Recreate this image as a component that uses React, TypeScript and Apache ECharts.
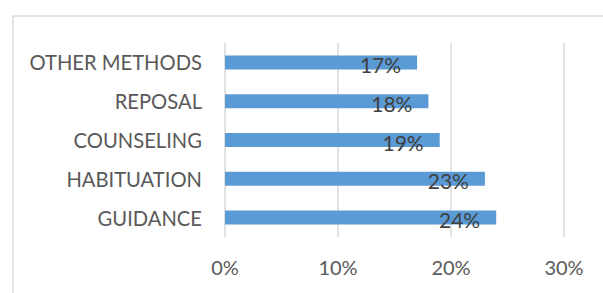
import React, { useEffect, useRef } from "react";
import * as echarts from "echarts";

const categories = ["GUIDANCE", "HABITUATION", "COUNSELING", "REPOSAL", "OTHER METHODS"];
const values = [0.24, 0.23, 0.19, 0.18, 0.17];
const axisTicks = [0, 0.1, 0.2, 0.3];

const FONT = "Lato";

export default function App() {
  const ref = useRef<HTMLDivElement>(null);
  useEffect(() => {
    document.body.style.margin = "0";
    const chart = echarts.init(ref.current!, undefined, { renderer: "svg" });
    chart.setOption({
      animation: false,
      backgroundColor: "#ffffff",
      graphic: [
        {
          type: "rect",
          left: 10.5,
          top: 13.5,
          shape: { width: 700, height: 400 },
          style: { fill: "none", stroke: "#d9d9d9", lineWidth: 1.5 },
          silent: true,
        },
      ],
      grid: { left: 225, right: 39, top: 43, bottom: 56 },
      xAxis: {
        type: "value",
        min: axisTicks[0],
        max: axisTicks[axisTicks.length - 1],
        interval: 0.1,
        axisLine: { show: false },
        axisTick: { show: false },
        splitLine: { lineStyle: { color: "#d9d9d9", width: 1.5 } },
        axisLabel: {
          formatter: (v: number) => Math.round(v * 100) + "%",
          color: "#595959",
          fontFamily: FONT,
          fontSize: 20,
          margin: 20,
        },
      },
      yAxis: {
        type: "category",
        data: categories,
        axisLine: { show: false },
        axisTick: { show: false },
        axisLabel: {
          color: "#595959",
          fontFamily: FONT,
          fontSize: 20.2,
          margin: 23,
        },
      },
      series: [
        {
          type: "bar",
          data: values,
          barWidth: 14,
          itemStyle: { color: "#5B9BD5" },
          label: {
            show: true,
            position: "insideRight",
            distance: 16,
            offset: [0, 2],
            formatter: (p: any) => Math.round(p.value * 100) + "%",
            color: "#404040",
            fontFamily: FONT,
            fontSize: 21,
          },
        },
      ],
    });
    return () => chart.dispose();
  }, []);
  return <div ref={ref} style={{ width: 603, height: 293 }} />;
}
